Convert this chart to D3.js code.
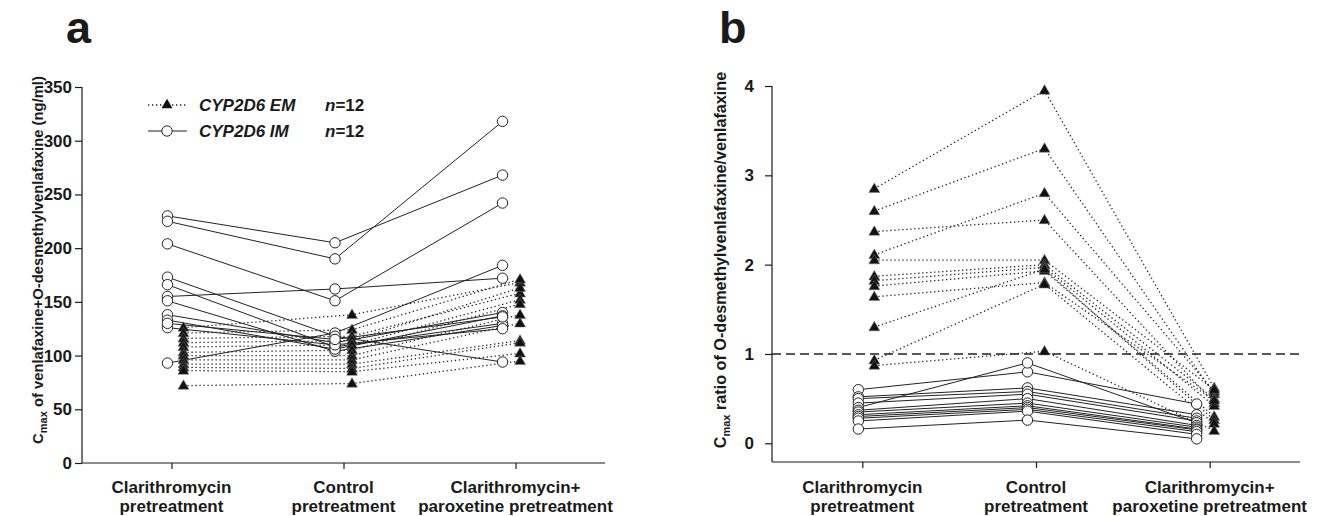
<!DOCTYPE html>
<html lang="en">
<head>
<meta charset="UTF-8">
<title>Cmax venlafaxine</title>
<script src="https://d3js.org/d3.v7.min.js"></script>
<style>
    body { margin: 0; background: #fff; }
    text { font-family: "Liberation Sans", Arial, sans-serif; fill: #1a1a1a; }
    .tick line { stroke: #1a1a1a; stroke-width: 1.2px; }
    .axisline { stroke: #1a1a1a; stroke-width: 1.2px; }
    .im { fill: none; stroke: #222; stroke-width: 1px; }
    .em { fill: none; stroke: #222; stroke-width: 1.3px; stroke-dasharray: 1.3 2.7; }
</style>
</head>
<body>
<script>
// categories on the x axis (two lines each)
const categories = ["clar", "ctrl", "clarpar"];
const catLabels = [
    ["Clarithromycin", "pretreatment"],
    ["Control", "pretreatment"],
    ["Clarithromycin+", "paroxetine pretreatment"]
];

// panel a: Cmax of venlafaxine+O-desmethylvenlafaxine (ng/ml), per subject
const aIM = [
    [230, 205, 268], [225, 190, 318], [204, 151, 242], [155, 162, 172],
    [93, 121, 184], [173, 118, 94], [166, 108, 130], [151, 104, 128],
    [138, 112, 140], [133, 106, 137], [126, 110, 125], [130, 115, 136]
];
const aEM = [
    [126, 138, 168], [121, 124, 171], [116, 118, 158], [112, 114, 163],
    [108, 110, 152], [103, 105, 148], [100, 100, 138], [96, 96, 130],
    [92, 92, 114], [89, 88, 112], [86, 85, 102], [72, 74, 95]
];
const aTicks = [0, 50, 100, 150, 200, 250, 300, 350];

// panel b: Cmax ratio O-desmethylvenlafaxine/venlafaxine, per subject
const bIM = [
    [0.60, 0.80, 0.44], [0.52, 0.62, 0.32], [0.50, 0.58, 0.28], [0.45, 0.55, 0.25],
    [0.40, 0.90, 0.23], [0.37, 0.50, 0.20], [0.35, 0.45, 0.18], [0.32, 0.42, 0.16],
    [0.30, 0.40, 0.15], [0.28, 0.38, 0.13], [0.25, 0.36, 0.10], [0.16, 0.26, 0.05]
];
const bEM = [
    [2.85, 3.95, 0.62], [2.60, 3.30, 0.55], [2.11, 2.80, 0.58], [2.37, 2.50, 0.45],
    [2.05, 2.05, 0.60], [1.87, 2.00, 0.50], [1.82, 1.97, 0.42], [1.76, 1.93, 0.30],
    [1.64, 1.80, 0.48], [1.30, 1.95, 0.26], [0.93, 1.78, 0.22], [0.87, 1.03, 0.14]
];
const bTicks = [0, 1, 2, 3, 4];

const width = 1323, height = 516;
const svg = d3.select("body").append("svg")
    .attr("width", width).attr("height", height);

// horizontal nudge of the two groups around each tick
const imShift = [-4, -8.5, -13];
const emShift = [12, 8.5, 4.5];

const tri = d3.symbol().type(d3.symbolTriangle).size(52);

function drawPanel(o) {
    const g = svg.append("g");
    const x = d3.scalePoint().domain(categories).range([o.left, o.right]).padding(0.52);
    const y = d3.scaleLinear().domain(o.domain).range([o.zeroY, o.top]);

    // axes
    g.append("line").attr("class", "axisline")
        .attr("x1", o.left).attr("x2", o.left).attr("y1", o.top).attr("y2", o.bottom);
    g.append("line").attr("class", "axisline")
        .attr("x1", o.left).attr("x2", o.right).attr("y1", o.bottom).attr("y2", o.bottom);

    g.append("g").attr("transform", `translate(${o.left},0)`)
        .call(d3.axisLeft(y).tickValues(o.ticks).tickFormat(d3.format("d"))
            .tickSize(7).tickSizeOuter(0).tickPadding(o.tickPad))
        .call(a => a.select(".domain").remove())
        .call(a => a.selectAll("text")
            .style("font-family", "'Liberation Sans', Arial, sans-serif")
            .style("font-size", "17px").style("font-weight", "bold").attr("fill", "#1a1a1a"));

    g.append("g").attr("transform", `translate(0,${o.bottom})`)
        .call(d3.axisBottom(x).tickSize(6).tickSizeOuter(0).tickFormat(""))
        .call(a => a.select(".domain").remove());

    categories.forEach((c, i) => {
        const t = g.append("text").attr("x", x(c)).attr("y", 493)
            .attr("text-anchor", "middle").style("font-size", "17px").style("font-weight", "bold");
        catLabels[i].forEach((s, j) => {
            t.append("tspan").attr("x", x(c)).attr("dy", j ? 19 : 0).text(s);
        });
    });

    // reference line
    if (o.refLine != null) {
        g.append("line")
            .attr("x1", o.left).attr("x2", o.right)
            .attr("y1", y(o.refLine)).attr("y2", y(o.refLine))
            .attr("stroke", "#222").attr("stroke-width", 1.3).attr("stroke-dasharray", "9 5");
    }

    const pos = (shift) => (d, i) => [x(categories[i]) + shift[i], y(d)];
    const line = d3.line();

    g.selectAll(".em").data(o.em).join("path").attr("class", "em")
        .attr("d", s => line(s.map(pos(emShift))));
    g.selectAll(".im").data(o.im).join("path").attr("class", "im")
        .attr("d", s => line(s.map(pos(imShift))));

    const emPts = o.em.flatMap(s => s.map(pos(emShift)));
    const imPts = o.im.flatMap(s => s.map(pos(imShift)));

    g.selectAll(".emPt").data(emPts).join("path").attr("class", "emPt")
        .attr("transform", p => `translate(${p[0]},${p[1] + 0.5})`)
        .attr("d", tri).attr("fill", "#111").attr("stroke", "#777").attr("stroke-width", 0.5);
    g.selectAll(".imPt").data(imPts).join("circle").attr("class", "imPt")
        .attr("cx", p => p[0]).attr("cy", p => p[1]).attr("r", 5.2)
        .attr("fill", "#fff").attr("stroke", "#222").attr("stroke-width", 1);

    // y label with subscript
    const yl = g.append("text")
        .attr("transform", `translate(${o.labelX},${o.labelY}) rotate(-90)`)
        .attr("text-anchor", "middle").style("font-size", o.labelSize).style("font-weight", "bold");
    yl.append("tspan").text("C");
    yl.append("tspan").attr("dy", 4).style("font-size", "11px").text("max");
    yl.append("tspan").attr("dy", -4).text(" " + o.label);

    g.append("text").attr("x", o.letterX).attr("y", 43)
        .style("font-size", "45px").style("font-weight", "bold").text(o.letter);
}

drawPanel({
    left: 82, right: 605, top: 87, bottom: 463, zeroY: 463,
    domain: [0, 350], ticks: aTicks, tickPad: 3,
    im: aIM, em: aEM, labelSize: "14.8px",
    label: "of venlafaxine+O-desmethylvenlafaxine (ng/ml)",
    labelX: 43, labelY: 260, letter: "a", letterX: 66
});

drawPanel({
    left: 772, right: 1300, top: 86, bottom: 462, zeroY: 443.3,
    domain: [0, 4], ticks: bTicks, tickPad: 11,
    im: bIM, em: bEM, refLine: 1, labelSize: "16.2px",
    label: "ratio of O-desmethylvenlafaxine/venlafaxine",
    labelX: 726, labelY: 260, letter: "b", letterX: 719
});

// legend (panel a)
const legend = [
    { name: "CYP2D6 EM", y: 105, cls: "em" },
    { name: "CYP2D6 IM", y: 131, cls: "im" }
];
const lg = svg.append("g");
legend.forEach(l => {
    lg.append("line").attr("class", l.cls)
        .attr("x1", 148).attr("x2", 187).attr("y1", l.y).attr("y2", l.y);
    if (l.cls === "em") {
        lg.append("path").attr("d", tri).attr("transform", `translate(167,${l.y})`).attr("fill", "#111");
    } else {
        lg.append("circle").attr("cx", 167).attr("cy", l.y).attr("r", 5.2)
            .attr("fill", "#fff").attr("stroke", "#222");
    }
    lg.append("text").attr("x", 199).attr("y", l.y + 6)
        .style("font-size", "17px").style("font-weight", "bold").style("font-style", "italic")
        .text(l.name);
    const n = lg.append("text").attr("x", 325).attr("y", l.y + 6)
        .style("font-size", "17px").style("font-weight", "bold");
    n.append("tspan").style("font-style", "italic").text("n");
    n.append("tspan").text("=12");
});
</script>
</body>
</html>
